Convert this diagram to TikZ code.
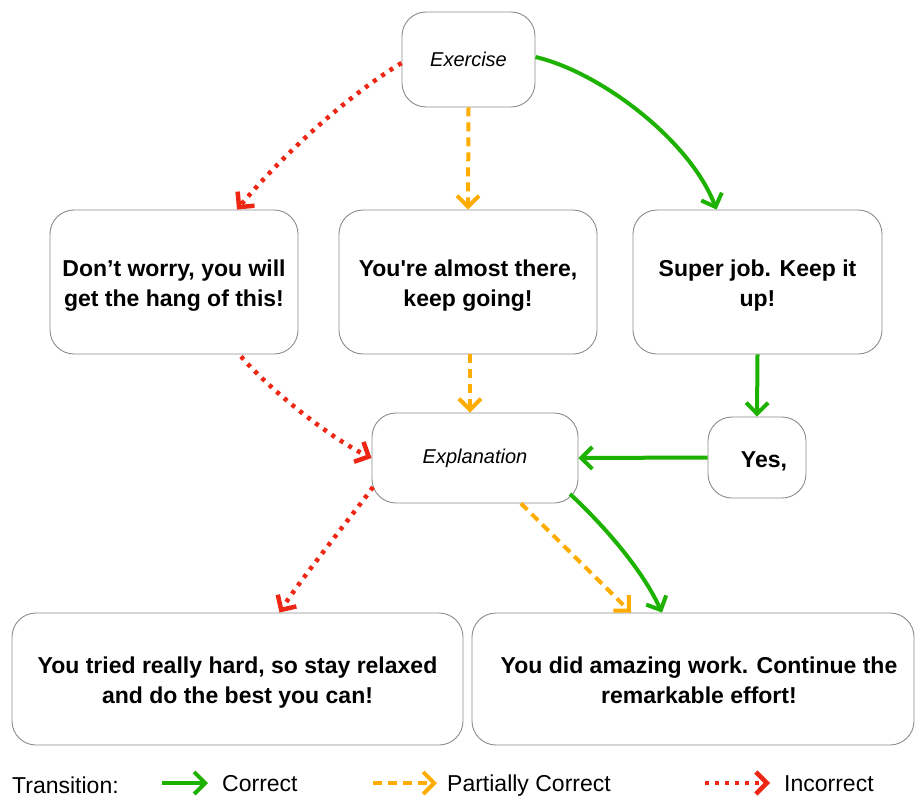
\documentclass[tikz,border=0pt]{standalone}
\usepackage{fontspec}
\setmainfont{Liberation Sans}
\usetikzlibrary{arrows.meta,calc}
\definecolor{cgreen}{RGB}{30,178,0}
\definecolor{corange}{RGB}{255,172,0}
\definecolor{cred}{RGB}{238,38,20}
\definecolor{cborder}{RGB}{140,140,140}
\newcommand{\boxtext}[2][0pt]{\raisebox{-3.5pt}[\height][\depth]{\hspace*{#1}\begin{tabular}{@{}c@{}}#2\end{tabular}}}
\begin{document}
\begin{tikzpicture}[x=1pt,y=-1pt,
  box/.style={draw=cborder, line width=0.9pt, rounded corners=24pt, fill=white,
    align=center, inner sep=0pt, font=\fontsize{23}{30}\selectfont\bfseries},
  ibox/.style={box, font=\fontsize{20}{24}\selectfont\itshape},
  tip/.style={-{Straight Barb[length=11pt,width=22pt]}},
  ok/.style={tip, draw=cgreen, line width=4pt},
  part/.style={tip, draw=corange, line width=4pt, dash pattern=on 9pt off 6pt},
  bad/.style={tip, draw=cred, line width=4.5pt, dash pattern=on 4pt off 6pt},
  legend/.style={anchor=base west, inner sep=0pt, font=\fontsize{23}{28}\selectfont}]
\useasboundingbox (0,0) rectangle (915,800);

% nodes
\node[ibox, minimum width=133pt, minimum height=95pt] (ex) at (468.5,59.5) {Exercise};
\node[box, minimum width=248pt, minimum height=144pt] (dw) at (174,282)
  {\boxtext{Don’t worry, you will\\get the hang of this!}};
\node[box, minimum width=258pt, minimum height=144pt] (alm) at (468,282)
  {\boxtext{You\textquotesingle re almost there,\\keep going!}};
\node[box, minimum width=249pt, minimum height=144pt] (sup) at (757.5,282)
  {\boxtext{Super job. Keep it\\up!}};
\node[ibox, minimum width=206pt, minimum height=90pt] (expl) at (475,458) {Explanation};
\node[box, minimum width=98pt, minimum height=81pt] (yes) at (757,457.5)
  {\raisebox{-4pt}[\height][\depth]{\hspace{14pt}Yes,}};
\node[box, minimum width=451pt, minimum height=132pt] (tried) at (237.5,679)
  {\boxtext{You tried really hard, so stay relaxed\\and do the best you can!}};
\node[box, minimum width=442pt, minimum height=132pt] (amz) at (693,679)
  {\boxtext[12pt]{You did amazing work. Continue the\\remarkable effort!}};

% connectors
\draw[bad] ($(ex.west)+(0,3.5)$) .. controls (350,94) and (285,152) .. ($(dw.north)+(63,0)$);
\draw[part] (ex.south) -- (alm.north);
\draw[ok] ($(ex.east)+(0,-2.5)$) .. controls (600,72) and (690,140) .. ($(sup.north)+(-41,0)$);
\draw[bad] ($(dw.south)+(67,2)$) .. controls (270,390) and (330,438) .. (expl.west);
\draw[part] ($(alm.south)+(2,0)$) -- ($(expl.north)+(-5,0)$);
\draw[ok] (sup.south) -- (yes.north);
\draw[ok] (yes.west) -- (expl.east);
\draw[bad] ($(expl.center)+(-102,29)$) .. controls (358,508) and (300,580) .. ($(tried.north)+(42,0)$);
\draw[part] ($(expl.south)+(46,0)$) -- ($(amz.north)+(-62,0)$);
\draw[ok] ($(expl.center)+(95,36)$) .. controls (598,520) and (640,565) .. ($(amz.north)+(-31,0)$);

% legend
\node[legend] (lt) at (12,793) {Transition:};
\coordinate (g1) at (162,783); \coordinate (g2) at (208,783);
\coordinate (o1) at (373,783); \coordinate (o2) at (437,783);
\coordinate (r1) at (705,783); \coordinate (r2) at (770,783);
\draw[ok] (g1) -- (g2);
\draw[part] (o1) -- (o2);
\draw[bad] (r1) -- (r2);
\node[legend] (lc) at (222,791) {Correct};
\node[legend] (lp) at (447,791) {Partially Correct};
\node[legend] (li) at (784,791) {Incorrect};
\end{tikzpicture}
\end{document}
